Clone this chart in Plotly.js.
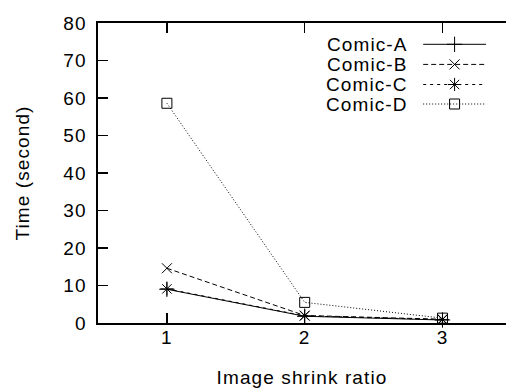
<!DOCTYPE html>
<html>
<head>
<meta charset="utf-8">
<script src="https://cdn.plot.ly/plotly-3.0.1.min.js"></script>
<style>
  html, body { margin: 0; padding: 0; background: #fff; }
  #chart { width: 506px; height: 390px; }
  svg text { letter-spacing: 1.1px; }
</style>
</head>
<body>
<div id="chart"></div>
<script>
// Shrink ratios on the x axis
const shrinkRatio = [1, 2, 3];
const tickLabels = ['1', '2', '3'];

// Processing time (seconds) per comic
const seriesNames = ['Comic-A', 'Comic-B', 'Comic-C', 'Comic-D'];
const comicA = [9.0, 1.8, 0.8];
const comicB = [14.6, 2.0, 1.0];
const comicC = [9.1, 1.9, 0.9];
const comicD = [58.6, 5.5, 1.3];

const FONT = 'Liberation Sans, Arial, Helvetica, sans-serif';
const FS = 19;
const styles = [
  { dash: 'solid',     symbol: 'cross-thin-open',  size: 11 },
  { dash: '5px,3px',   symbol: 'x-thin-open',      size: 10 },
  { dash: '3px,4px',   symbol: 'asterisk-open',    size: 11 },
  { dash: '1px,2px',   symbol: 'square-open',      size: 10 }
];
const values = [comicA, comicB, comicC, comicD];

const traces = values.map((ys, i) => ({
  type: 'scatter',
  mode: 'lines+markers',
  name: seriesNames[i],
  x: shrinkRatio,
  y: ys,
  line: { color: '#000', width: 1, dash: styles[i].dash },
  marker: { symbol: styles[i].symbol, size: styles[i].size, color: '#000',
            line: { color: '#000', width: 1 } },
  showlegend: false,
  cliponaxis: false
}));

// Key: text on the left, line sample with marker on the right
const keyRowsY = [0.929, 0.862, 0.795, 0.730];
const keyX0 = 0.797, keyX1 = 0.951;
seriesNames.forEach((name, i) => {
  traces.push({
    type: 'scatter', mode: 'lines', xaxis: 'x2', yaxis: 'y2',
    x: [keyX0, keyX1], y: [keyRowsY[i], keyRowsY[i]],
    line: { color: '#000', width: 1, dash: styles[i].dash },
    showlegend: false, hoverinfo: 'skip'
  });
  traces.push({
    type: 'scatter', mode: 'markers', xaxis: 'x2', yaxis: 'y2',
    x: [(keyX0 + keyX1) / 2], y: [keyRowsY[i]],
    marker: { symbol: styles[i].symbol, size: styles[i].size, color: '#000',
              line: { color: '#000', width: 1 } },
    showlegend: false, hoverinfo: 'skip'
  });
});

const keyText = seriesNames.map((name, i) => ({
  xref: 'paper', yref: 'paper', x: 0.764, y: keyRowsY[i],
  xanchor: 'right', yanchor: 'middle', showarrow: false,
  text: name, font: { family: FONT, size: FS, color: '#000' }
}));

const layout = {
  width: 506, height: 390,
  margin: { l: 98, r: 0, t: 23, b: 67 },
  paper_bgcolor: '#fff', plot_bgcolor: '#fff',
  font: { family: FONT, size: FS, color: '#000' },
  showlegend: false,
  xaxis: {
    range: [0.5, 3.461],
    tickvals: shrinkRatio, ticktext: tickLabels,
    ticks: 'inside', ticklen: 10, tickwidth: 1.2, tickcolor: '#000',
    showline: true, linecolor: '#000', linewidth: 1.6, mirror: 'ticks',
    showgrid: false, zeroline: false,
    ticklabelstandoff: -3,
    title: { text: 'Image shrink ratio', font: { family: FONT, size: FS, color: '#000' }, standoff: 23 }
  },
  yaxis: {
    range: [0, 80], dtick: 10,
    ticks: 'inside', ticklen: 10, tickwidth: 1.2, tickcolor: '#000',
    showline: true, linecolor: '#000', linewidth: 1.6,
    showgrid: false, zeroline: false,
    ticklabelstandoff: 6,
    title: { text: 'Time (second)', font: { family: FONT, size: FS, color: '#000' }, standoff: 28 }
  },
  xaxis2: { domain: [0, 1], range: [0, 1], overlaying: 'x', visible: false, fixedrange: true },
  yaxis2: { domain: [0, 1], range: [0, 1], overlaying: 'y', visible: false, fixedrange: true },
  annotations: keyText
};

Plotly.newPlot('chart', traces, layout, { displayModeBar: false, staticPlot: true });
</script>
</body>
</html>
